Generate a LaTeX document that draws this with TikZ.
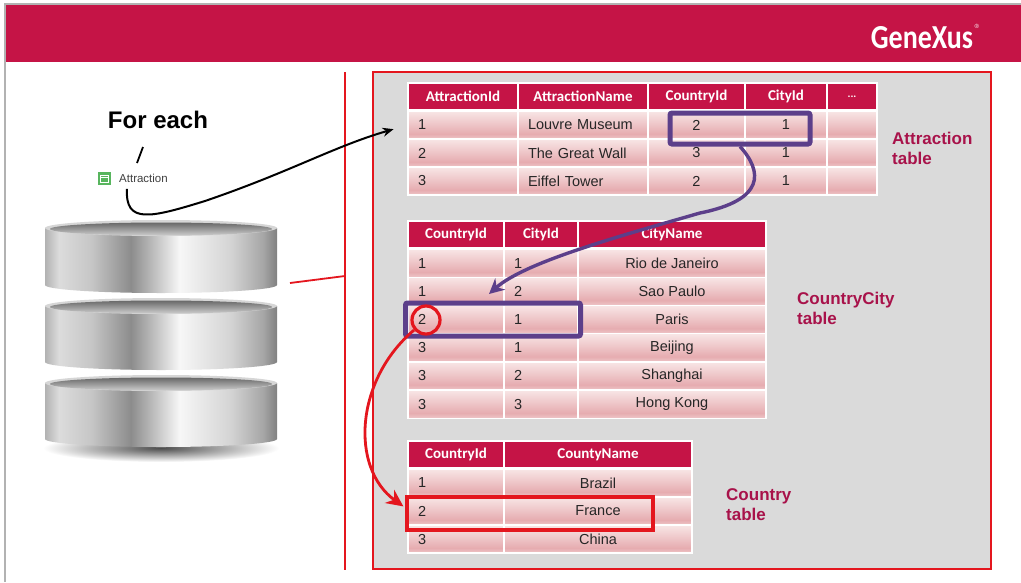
\documentclass[tikz,border=0pt]{standalone}
\usepackage{fontspec}
\setmainfont{Liberation Sans}
\newfontfamily\calib{Carlito}
\usetikzlibrary{arrows.meta,positioning,fit}

\definecolor{cHead}{HTML}{C51446}
\definecolor{cCellT}{HTML}{F8E6E6}
\definecolor{cCellM}{HTML}{E6ACB0}
\definecolor{cCellB}{HTML}{EEC6C8}
\definecolor{cPanel}{HTML}{DADADA}
\definecolor{cRed}{HTML}{E4161E}
\definecolor{cPurple}{HTML}{5C3F8A}
\definecolor{cLabel}{HTML}{A8124A}
\definecolor{cInk}{HTML}{262626}
\definecolor{cIcon}{HTML}{58B55E}
% metal discs
\definecolor{mA}{HTML}{B2B2B2}
\definecolor{mB}{HTML}{DCDCDC}
\definecolor{mC}{HTML}{C6C6C6}
\definecolor{mD}{HTML}{8C8C8C}
\definecolor{mE}{HTML}{F7F7F7}
\definecolor{mF}{HTML}{D4D4D4}
\definecolor{mG}{HTML}{A6A6A6}
\definecolor{mH}{HTML}{808080}
\definecolor{dRim}{HTML}{D6D6D6}
\definecolor{dTop}{HTML}{686868}
\definecolor{dBot}{HTML}{CDCDCD}

\pgfdeclareverticalshading{cellshade}{100bp}{color(0bp)=(cCellB); color(25bp)=(cCellB);
  color(34bp)=(cCellM); color(52bp)=(cCellM!55!cCellT); color(75bp)=(cCellT); color(100bp)=(cCellT)}
\pgfdeclarehorizontalshading{metal}{100bp}{color(0bp)=(mA); color(25bp)=(mA); color(28bp)=(mB);
  color(35bp)=(mC); color(43.5bp)=(mD); color(54bp)=(mE); color(65bp)=(mF); color(72bp)=(mG);
  color(75bp)=(mH); color(100bp)=(mH)}

\newcommand{\moredots}{{\fontsize{11pt}{11pt}\selectfont ...}}

\tikzset{
  >=Stealth,
  hcell/.style={fill=cHead,draw=white,line width=1.2pt,minimum height=27pt,inner sep=0pt,outer sep=0pt,
    text=white,font=\calib\bfseries\fontsize{15pt}{15pt}\selectfont},
  cell/.style={shade,shading=cellshade,draw=white,line width=1.2pt,minimum height=28pt,inner xsep=10pt,
    inner ysep=0pt,outer sep=0pt,align=left,text=cInk,font=\fontsize{14.5pt}{16pt}\selectfont},
  lbl/.style={font=\bfseries\fontsize{17pt}{20pt}\selectfont,text=cLabel,align=left,inner sep=0pt,anchor=north west},
  pbox/.style={draw=cPurple,line width=5pt,rounded corners=2pt,inner sep=0pt},
  rbox/.style={draw=cRed,line width=3.2pt,inner sep=0pt},
  rcirc/.style={circle,draw=cRed,line width=3.2pt,inner sep=0pt},
  parrow/.style={-{Stealth[length=15pt,width=15pt]},draw=cPurple,line width=3.4pt},
  rarrow/.style={-{Stealth[length=17pt,width=16pt]},draw=cRed,line width=2.8pt},
  blkarrow/.style={-{Stealth[length=11pt,width=9pt]},draw=black,line width=2pt},
  redln/.style={draw=cRed,line width=1.8pt},
  icon/.style={fill=cIcon,minimum size=13pt,inner sep=0pt},
  logo/.style={text=white,inner sep=0pt,font=\calib\bfseries\fontsize{28pt}{28pt}\selectfont},
}

\begin{document}
\begin{tikzpicture}[x=1pt,y=-1pt]
\useasboundingbox (0,0) rectangle (1021,582);
\fill[white] (0,0) rectangle (1021,582);

% title band
\fill[cHead] (5,5) rectangle (1021,62);
\draw[gray!60,line width=1.2pt] (5,582) -- (5,4) -- (1021,4);
\node[logo] (logo) at (922,38) {\scalebox{1}[1.2]{GeneXus}};
\node[text=white,inner sep=0pt,font=\fontsize{6pt}{6pt}\selectfont,right=1pt of logo.north east] (reg) {®};

% for each over Attraction
\node[anchor=base,inner sep=0pt,font=\bfseries\fontsize{24pt}{24pt}\selectfont] (foreach) at (158,128) {For each};
\draw[line width=1.8pt] (143,147) -- (137,163);
\node[icon] (ico) at (104.5,178.5) {};
\draw[white,line width=0.8pt] ([shift={(2.5pt,-3.5pt)}]ico.north west) rectangle ([shift={(-2.5pt,2.5pt)}]ico.south east);
\draw[white,line width=0.8pt] ([shift={(2.5pt,-6pt)}]ico.north west) -- ([shift={(-2.5pt,-6pt)}]ico.north east);
\node[anchor=west,inner sep=0pt,text=black!75,font=\fontsize{11.5pt}{12pt}\selectfont] (attr) at (119,178.5) {Attraction};

% database
\shade[inner color=black!70,outer color=white] (161,448) ellipse[x radius=118pt,y radius=14pt];
\foreach \t/\b in {228/285,306/362,383/439}{
  \shade[shading=metal] (45,\t) -- (45,\b) arc[start angle=180,end angle=360,x radius=116pt,y radius=8pt]
    -- (277,\t) -- cycle;
  \fill[dRim] (161,\t) ellipse[x radius=116pt,y radius=8pt];
  \shade[top color=dTop,bottom color=dBot] (161,\t+1) ellipse[x radius=111pt,y radius=6.5pt];
}

% panel with the tables
\draw[cRed,line width=2pt,fill=cPanel] (373,72) rectangle (991,569);
\draw[redln] (345,72) -- (345,570);
\coordinate (db) at (290,283);
\coordinate (bar) at (345,276);
\draw[redln] (db) -- (bar);

% Attraction table
\foreach \t/\cx/\w [count=\c] in {AttractionId/463/110,AttractionName/583/130,CountryId/696.5/97,CityId/786/82,\moredots/852/50}
  \node[hcell,minimum width=\w pt] (a-0-\c) at (\cx,96.5) {\t};
\foreach \r/\y/\ta/\tb/\tc/\td in {1/125/1/Louvre Museum/2/1,2/153/2/The Great Wall/3/1,3/181/3/Eiffel Tower/2/1}{
  \node[cell,text width=90pt] (a-\r-1) at (463,\y) {\ta};
  \node[cell,text width=110pt] (a-\r-2) at (583,\y) {\tb};
  \node[cell,minimum width=97pt] (a-\r-3) at (696.5,\y) {\tc};
  \node[cell,minimum width=82pt] (a-\r-4) at (786,\y) {\td};
  \node[cell,minimum width=50pt] (a-\r-5) at (852,\y) {};
}
\node[lbl] (la) at (892,132) {Attraction\\table};

% CountryCity table
\foreach \t/\cx/\w [count=\c] in {CountryId/456/96,CityId/541/74,CityName/672/188}
  \node[hcell,minimum width=\w pt] (cc-0-\c) at (\cx,234.5) {\t};
\foreach \r/\y/\ta/\tb/\tc in {1/263.1/1/1/Rio de Janeiro,2/291.3/1/2/Sao Paulo,3/319.5/2/1/Paris,
    4/347.7/3/1/Beijing,5/375.9/3/2/Shanghai,6/404.1/3/3/Hong Kong}{
  \node[cell,text width=76pt] (cc-\r-1) at (456,\y) {\ta};
  \node[cell,text width=54pt] (cc-\r-2) at (541,\y) {\tb};
  \node[cell,minimum width=188pt] (cc-\r-3) at (672,\y) {\tc};
}
\node[lbl] (lcc) at (797,292) {CountryCity\\table};

% Country table
\foreach \t/\cx/\w [count=\c] in {CountryId/456/96,CountyName/598/188}
  \node[hcell,minimum width=\w pt] (co-0-\c) at (\cx,454.5) {\t};
\foreach \r/\y/\ta/\tb in {1/483/1/Brazil,2/511/2/France,3/539/3/China}{
  \node[cell,text width=76pt] (co-\r-1) at (456,\y) {\ta};
  \node[cell,minimum width=188pt] (co-\r-2) at (598,\y) {\tb};
}
\node[lbl] (lco) at (726,488) {Country\\table};

% highlights
\node[pbox,minimum width=140pt,minimum height=31pt] (pa) at (740,128.5) {};
\node[pbox,fit=(cc-3-1)(cc-3-2),inner sep=2.5pt] (pcc) {};
\node[rcirc,minimum size=28pt] (rc) at (426,320) {};
\node[rbox,minimum width=246pt,minimum height=33pt] (fr) at (530,513.5) {};

% lookups
\coordinate (ptip) at (489,294);
\draw[parrow] (pa.south) .. controls (763,172) and (765,200) .. (700,213)
  .. controls (620,236) and (525,262) .. (ptip);
\coordinate (ftip) at ([xshift=-2pt,yshift=-11pt]fr.north west);
\draw[rarrow] (rc.220) .. controls (355,380) and (350,468) .. (ftip);
\draw[blkarrow,shorten >=15pt] ([xshift=8pt,yshift=-6pt]attr.south west) .. controls (125,224) and (150,218) .. (205,201)
  .. controls (290,172) and (335,146) .. (a-1-1.west);
\end{tikzpicture}
\end{document}
